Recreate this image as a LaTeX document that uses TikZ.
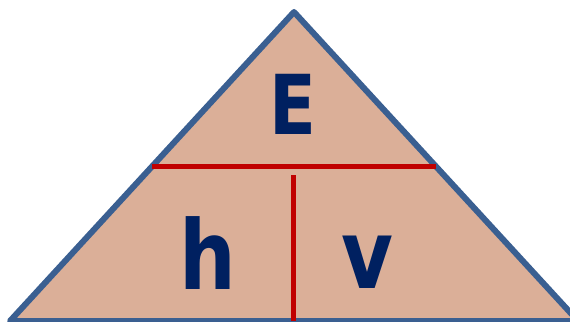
\documentclass[tikz,border=0pt]{standalone}
\usepackage{fontspec}
\setmainfont{DejaVu Sans}
\definecolor{arena}{RGB}{219,175,152}
\definecolor{borde}{RGB}{58,95,145}
\definecolor{rojo}{RGB}{192,0,0}
\definecolor{marino}{RGB}{0,32,96}
\tikzset{
  letra/.style={text=marino,font=\bfseries,anchor=base,inner sep=0pt,xscale=.83,transform shape},
  divisor/.style={rojo,line width=3.75pt}
}
\begin{document}
\begin{tikzpicture}[x=.75pt,y=-.75pt]
                \useasboundingbox (0,0) rectangle (570,321);
                \clip (0,0) rectangle (570,321);
                % Triangulo
                \coordinate (cima) at (294,12);
                \coordinate (izq) at (10,321);
                \coordinate (der) at (578,321);
                \filldraw[fill=arena,draw=borde,line width=4.5pt,line join=round] (cima) -- (der) -- (izq) -- cycle;

                % Divisiones
                \coordinate (hi) at (152,166);
                \coordinate (hd) at (436,166);
                \coordinate (va) at (293,175);
                \coordinate (vb) at (293,321);
                \draw[divisor] (hi) -- (hd);
                \draw[divisor] (va) -- (vb);

                % Letras
                \node[letra,font=\fontsize{62}{62}\bfseries] (E) at (293,134) {E};
                \node[letra,font=\fontsize{72}{72}\bfseries] (h) at (208,289) {h};
                \node[letra,font=\fontsize{72}{72}\bfseries] (v) at (367,288) {v};
\end{tikzpicture}
\end{document}
